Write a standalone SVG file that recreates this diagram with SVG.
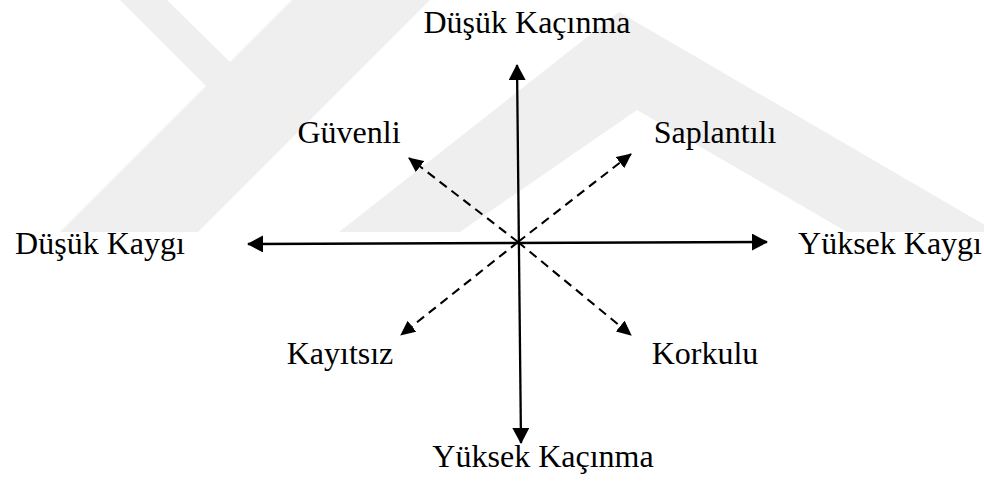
<svg xmlns="http://www.w3.org/2000/svg" width="984" height="483" viewBox="0 0 984 483">
  <style>
    .lbl { font-family: "Liberation Serif", "Times New Roman", serif; font-size: 32px; fill: #000; text-anchor: middle; }
    .axis { stroke: #000; stroke-width: 2.3; fill: none; }
    .dash { stroke: #000; stroke-width: 2.1; fill: none; stroke-dasharray: 9 6; }
    .wm { fill: #efefef; stroke: none; }
  </style>
  <defs>
    <marker id="ah" viewBox="0 0 16 17" refX="15" refY="8.5" markerWidth="16" markerHeight="17" markerUnits="userSpaceOnUse" orient="auto-start-reverse">
      <path d="M0,0 L16,8.5 L0,17 Z" fill="#000"/>
    </marker>
    <marker id="dh" viewBox="0 0 15 14" refX="14" refY="7" markerWidth="15" markerHeight="14" markerUnits="userSpaceOnUse" orient="auto">
      <path d="M0,0 L15,7 L0,14 Z" fill="#000"/>
    </marker>
  </defs>
  <rect width="984" height="483" fill="#fff"/>
  <g id="watermark">
    <polygon class="wm" points="120,0 167,0 230,62 292,0 430,0 198,232 60,232 206,86"/>
    <polygon class="wm" points="339,232 619,12 997,232 847,232 637,110 460,232"/>
  </g>
  <g id="connectors">
    <line class="axis" x1="248" y1="244" x2="767" y2="242" marker-start="url(#ah)" marker-end="url(#ah)"/>
    <line class="axis" x1="517" y1="65" x2="521" y2="443" marker-start="url(#ah)" marker-end="url(#ah)"/>
    <line class="dash" x1="518" y1="242" x2="409" y2="158" marker-end="url(#dh)"/>
    <line class="dash" x1="518" y1="242" x2="631" y2="154" marker-end="url(#dh)"/>
    <line class="dash" x1="518" y1="242" x2="401" y2="335" marker-end="url(#dh)"/>
    <line class="dash" x1="518" y1="242" x2="631" y2="335" marker-end="url(#dh)"/>
  </g>
  <g id="n-dusuk-kacinma"><text class="lbl" x="527" y="33">Düşük Kaçınma</text></g>
  <g id="n-guvenli"><text class="lbl" x="349" y="143">Güvenli</text></g>
  <g id="n-saplantili"><text class="lbl" x="715" y="143">Saplantılı</text></g>
  <g id="n-dusuk-kaygi"><text class="lbl" x="100" y="254">Düşük Kaygı</text></g>
  <g id="n-yuksek-kaygi"><text class="lbl" x="890" y="254">Yüksek Kaygı</text></g>
  <g id="n-kayitsiz"><text class="lbl" x="340" y="364">Kayıtsız</text></g>
  <g id="n-korkulu"><text class="lbl" x="705" y="364">Korkulu</text></g>
  <g id="n-yuksek-kacinma"><text class="lbl" x="543" y="467">Yüksek Kaçınma</text></g>
</svg>
